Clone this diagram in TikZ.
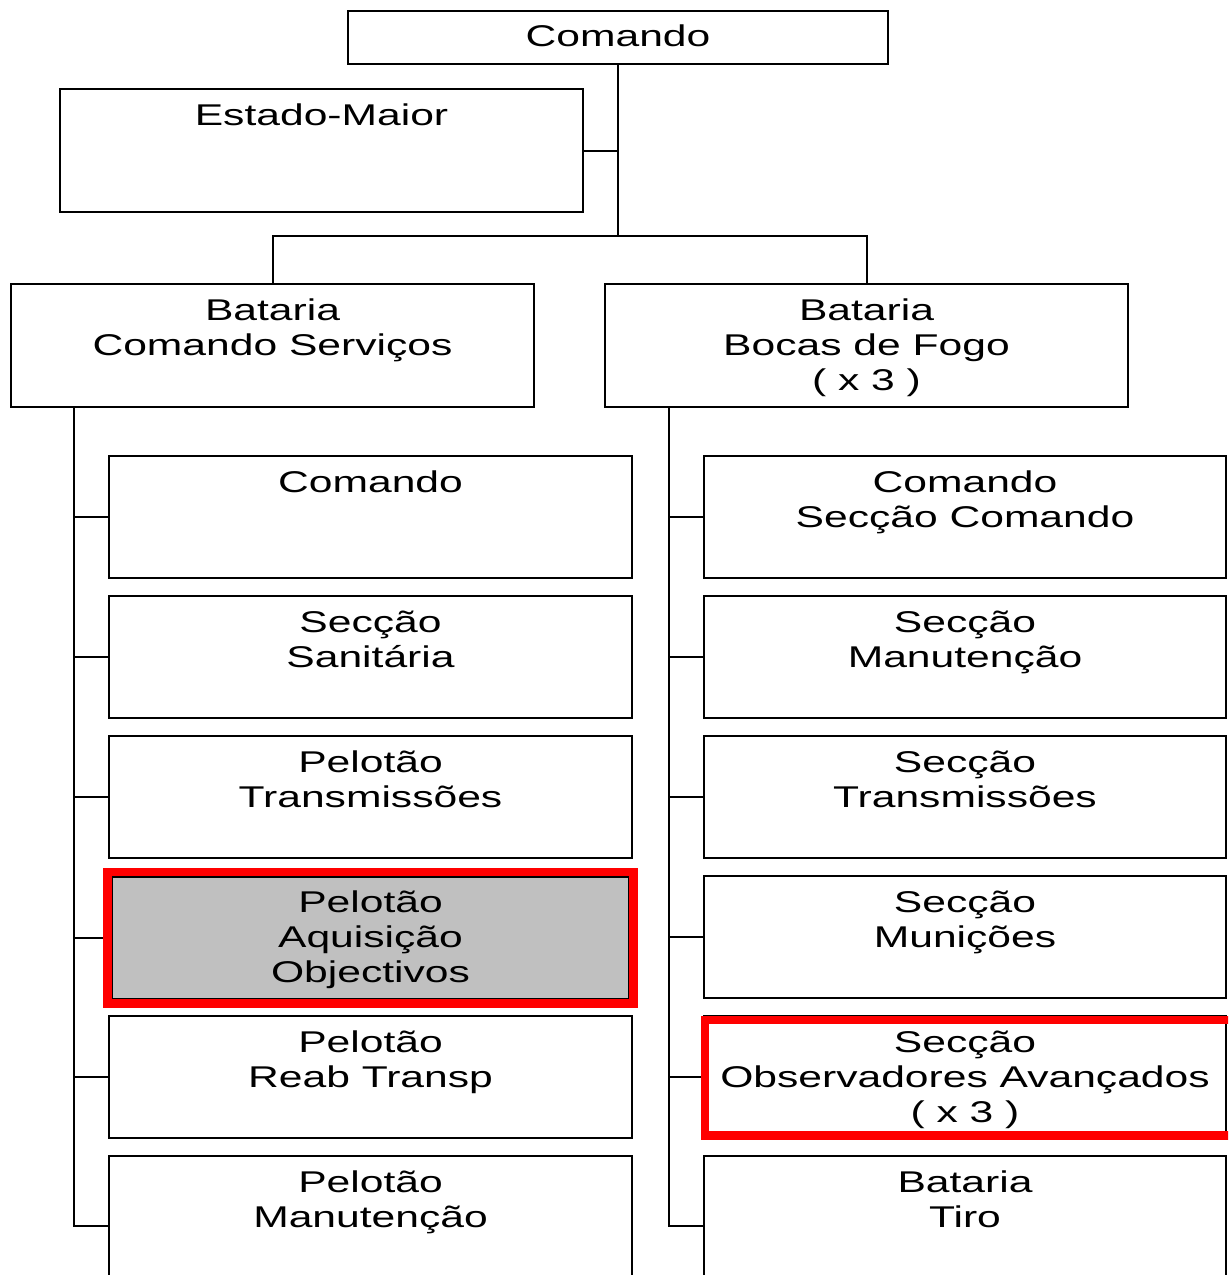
\documentclass[tikz,border=0pt]{standalone}
\usepackage{fontspec}
\setmainfont{Liberation Sans}[FakeStretch=1.42]
% centred lines whose baseline is the first line's
\newcommand\stacked[1]{\begin{tabular}[t]{@{}c@{}}#1\end{tabular}}
\begin{document}
\begin{tikzpicture}[x=0.5pt,y=-0.5pt,
  orgbox/.style={draw=black,line width=1pt,fill=white,inner sep=0pt,outer sep=0pt,
    anchor=north west,minimum width=261.5pt,minimum height=61pt},
  txt/.style={anchor=base,inner sep=0pt,outer sep=0pt,font=\fontsize{15}{17.5}\selectfont},
  wire/.style={draw=black,line width=1pt},
  redframe/.style={draw=red,line width=4.25pt}]
\useasboundingbox (0,0) rectangle (1228,1275);
\clip (0,0) rectangle (1228,1275);

% headquarters
\node[orgbox,minimum width=270pt,minimum height=26.5pt] (cmd) at (348,11) {};
\node[orgbox,minimum height=61.5pt] (em) at (60,89) {};
\node[orgbox,minimum height=61.5pt] (bcs) at (11,284) {};
\node[orgbox,minimum height=61.5pt] (bbf) at (605,284) {};

% left column: Bataria Comando Servicos
\node[orgbox] (l1) at (109,456) {};
\node[orgbox] (l2) at (109,596) {};
\node[orgbox] (l3) at (109,736) {};
\node[orgbox,fill={rgb,255:red,192;green,192;blue,192},minimum width=258.5pt] (l4) at (112,877) {};
\node[orgbox] (l5) at (109,1016) {};
\node[orgbox,minimum height=70pt] (l6) at (109,1156) {};

% right column: Bataria Bocas de Fogo
\node[orgbox,minimum width=261pt] (r1) at (704,456) {};
\node[orgbox,minimum width=261pt] (r2) at (704,596) {};
\node[orgbox,minimum width=261pt] (r3) at (704,736) {};
\node[orgbox,minimum width=261pt] (r4) at (704,876) {};
\node[orgbox,minimum width=261pt] (r5) at (704,1016) {};
\node[orgbox,minimum width=261pt,minimum height=70pt] (r6) at (704,1156) {};

% labels
\node[txt] (cmd-t) at ([yshift=-17.5pt]cmd.north) {\stacked{Comando}};
\node[txt] (em-t) at ([yshift=-18pt]em.north) {\stacked{Estado-Maior}};
\node[txt] (bcs-t) at ([yshift=-18pt]bcs.north) {\stacked{Bataria\\Comando Serviços}};
\node[txt] (bbf-t) at ([yshift=-18pt]bbf.north) {\stacked{Bataria\\Bocas de Fogo\\( x 3 )}};

\node[txt] (l1-t) at ([yshift=-18pt]l1.north) {\stacked{Comando}};
\node[txt] (l2-t) at ([yshift=-18pt]l2.north) {\stacked{Secção\\Sanitária}};
\node[txt] (l3-t) at ([yshift=-18pt]l3.north) {\stacked{Pelotão\\Transmissões}};
\node[txt] (l4-t) at ([yshift=-17.5pt]l4.north) {\stacked{Pelotão\\Aquisição\\Objectivos}};
\node[txt] (l5-t) at ([yshift=-18pt]l5.north) {\stacked{Pelotão\\Reab Transp}};
\node[txt] (l6-t) at ([yshift=-18pt]l6.north) {\stacked{Pelotão\\Manutenção}};

\node[txt] (r1-t) at ([yshift=-18pt]r1.north) {\stacked{Comando\\Secção Comando}};
\node[txt] (r2-t) at ([yshift=-18pt]r2.north) {\stacked{Secção\\Manutenção}};
\node[txt] (r3-t) at ([yshift=-18pt]r3.north) {\stacked{Secção\\Transmissões}};
\node[txt] (r4-t) at ([yshift=-18pt]r4.north) {\stacked{Secção\\Munições}};
\node[txt] (r5-t) at ([yshift=-18pt]r5.north) {\stacked{Secção\\Observadores Avançados\\( x 3 )}};
\node[txt] (r6-t) at ([yshift=-18pt]r6.north) {\stacked{Bataria\\Tiro}};

% connectors
\coordinate (hub) at (618,236);
\draw[wire] (cmd.south) -- (hub);
\draw[wire] (em.east) -- (em.east -| hub);
\draw[wire] (bcs.north) |- (hub) -| (bbf.north);

\coordinate (lsp) at (74,407);
\draw[wire] (lsp) |- (l6.west);
\foreach \n in {l1,l2,l3,l4,l5}
  \draw[wire] (lsp |- \n.west) -- (\n.west);

\coordinate (rsp) at (669,407);
\draw[wire] (rsp) |- (r6.west);
\foreach \n in {r1,r2,r3,r4,r5}
  \draw[wire] (rsp |- \n.west) -- (\n.west);

% highlighted units
\draw[redframe] ([shift={(-4.5,-5)}]l4.north west) rectangle ([shift={(4.5,4.5)}]l4.south east);
\draw[redframe] ([shift={(1,4)}]r5.north west) rectangle ([shift={(8,-2.5)}]r5.south east);
\end{tikzpicture}
\end{document}
